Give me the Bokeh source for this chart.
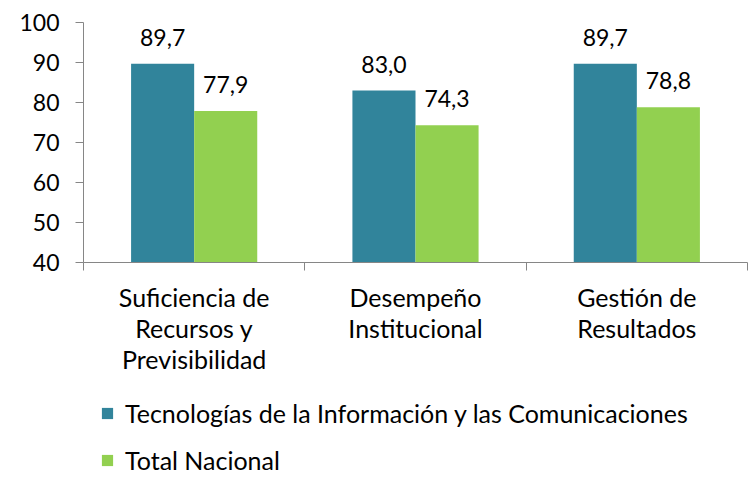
from bokeh.plotting import figure
from bokeh.layouts import column
from bokeh.models import ColumnDataSource, FixedTicker, Range1d, Legend, LegendItem
from bokeh.embed import file_html
from bokeh.resources import INLINE
from bokeh.core.properties import value

categories = ["Suficiencia de\nRecursos y\nPrevisibilidad", "Desempeño\nInstitucional", "Gestión de\nResultados"]
series_names = ["Tecnologías de la Información y las Comunicaciones", "Total Nacional"]
tic_values = [89.7, 83.0, 89.7]
nacional_values = [77.9, 74.3, 78.8]
y_ticks = [40, 50, 60, 70, 80, 90, 100]
colors = ["#31849B", "#92D050"]

FONT = "Lato"
FS_NUM = "23px"
FS_TXT = "25px"
AXIS_COLOR = "#868686"

xs = [i + 0.5 for i in range(len(categories))]
bw = 0.285

p = figure(width=754, height=387, output_backend="svg", toolbar_location=None,
           x_range=Range1d(0, len(categories)), y_range=Range1d(40, 100),
           min_border_left=83, min_border_right=7, min_border_top=22, min_border_bottom=125)
p.outline_line_color = None
p.xgrid.visible = False
p.ygrid.visible = False
p.background_fill_color = None
p.border_fill_color = "white"

src1 = ColumnDataSource(dict(x=[x - bw / 2 for x in xs], top=tic_values,
                             lab=[f"{v:.1f}".replace(".", ",") for v in tic_values]))
src2 = ColumnDataSource(dict(x=[x + bw / 2 for x in xs], top=nacional_values,
                             lab=[f"{v:.1f}".replace(".", ",") for v in nacional_values]))

p.vbar(x="x", top="top", bottom=40, width=bw, source=src1, fill_color=colors[0], line_color=None)
p.vbar(x="x", top="top", bottom=40, width=bw, source=src2, fill_color=colors[1], line_color=None)

for s in (src1, src2):
    p.text(x="x", y="top", text="lab", source=s, text_align="center", text_baseline="bottom",
           y_offset=-18, text_font=value(FONT), text_font_size=FS_NUM, text_color="black")

# y axis
p.yaxis.ticker = FixedTicker(ticks=y_ticks)
p.yaxis.major_tick_out = 8
p.yaxis.major_tick_in = 0
p.yaxis.minor_tick_out = 0
p.yaxis.minor_tick_in = 0
p.yaxis.axis_line_color = AXIS_COLOR
p.yaxis.major_tick_line_color = AXIS_COLOR
p.yaxis.major_label_text_font = FONT
p.yaxis.major_label_text_font_size = FS_NUM
p.yaxis.major_label_text_color = "black"
p.yaxis.major_label_standoff = 16

# x axis
p.xaxis.ticker = FixedTicker(ticks=xs, minor_ticks=list(range(len(categories) + 1)))
p.xaxis.major_label_overrides = {x: c for x, c in zip(xs, categories)}
p.xaxis.major_tick_out = 0
p.xaxis.major_tick_in = 0
p.xaxis.minor_tick_out = 8
p.xaxis.minor_tick_in = 0
p.xaxis.axis_line_color = AXIS_COLOR
p.xaxis.minor_tick_line_color = AXIS_COLOR
p.xaxis.major_label_text_font = FONT
p.xaxis.major_label_text_font_size = FS_TXT
p.xaxis.major_label_text_color = "black"
p.xaxis.major_label_text_line_height = 1.04
p.xaxis.major_label_standoff = 11

# legend figure (renderers hidden, used only for legend swatches)
lg = figure(width=754, height=90, output_backend="svg", toolbar_location=None,
            x_range=Range1d(0, len(categories)), y_range=Range1d(40, 100),
            x_axis_location=None, y_axis_location=None, min_border=0)
lg.outline_line_color = None
lg.xgrid.visible = False
lg.ygrid.visible = False
lg.background_fill_color = None
lg.border_fill_color = "white"
d1 = lg.vbar(x="x", top="top", bottom=40, width=bw, source=src1, fill_color=colors[0], line_color=None)
d2 = lg.vbar(x="x", top="top", bottom=40, width=bw, source=src2, fill_color=colors[1], line_color=None)
d1.visible = False
d2.visible = False

legend = Legend(items=[LegendItem(label=series_names[0], renderers=[d1]),
                       LegendItem(label=series_names[1], renderers=[d2])],
                location=(17, 2), orientation="vertical",
                padding=0, margin=0, border_line_color=None, background_fill_alpha=0,
                glyph_width=14, glyph_height=14, label_standoff=11,
                label_text_font=FONT, label_text_font_size=FS_TXT, label_text_color="black",
                label_height=24, spacing=17)
lg.add_layout(legend, "center")

layout = column(p, lg, spacing=0)
open("out.html", "w").write(file_html(layout, INLINE))
